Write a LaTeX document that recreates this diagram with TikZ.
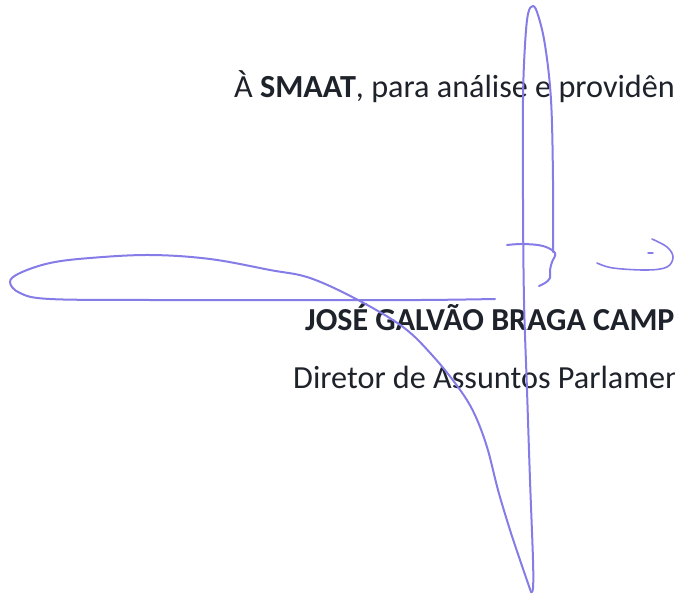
\documentclass[tikz,border=0pt]{standalone}
\usepackage{fontspec}
\setmainfont{Carlito}
\definecolor{ink}{RGB}{134,124,232}
\definecolor{print}{RGB}{30,34,42}
\tikzset{
  pen/.style={draw=ink,line width=2pt,line cap=round,line join=round},
  typed/.style={text=print,inner sep=0pt,anchor=base west}
}
\begin{document}
\begin{tikzpicture}[x=1pt,y=-1pt]
\clip (0,0) rectangle (675,597);
\fill[white] (0,0) rectangle (675,597);
\node[typed,font=\fontsize{32.2}{38}\selectfont] (despacho) at (234,97) {À \textbf{SMAAT}, para análise e providên};
\node[typed,font=\fontsize{32}{38}\selectfont\bfseries] (nome) at (305,330) {JOSÉ GALVÃO BRAGA CAMP};
\node[typed,font=\fontsize{32.2}{38}\selectfont] (cargo) at (293,388) {Diretor de Assuntos Parlamen};
\draw[pen] plot[smooth,tension=0.6] coordinates {(553,252) (553,180) (551,100) (545,45) (538,15) (533,6) (528,14) (525,45) (523,100) (523,200) (524,300) (527,390) (530,480) (533,560) (533,588) (531,592)};
\draw[pen] plot[smooth,tension=0.6] coordinates {(531,592) (520,560) (510,530) (498,490) (487,447) (474,413) (458,387) (432,355) (403,327) (358,300) (310,278) (270,270) (210,259) (150,255) (90,258) (50,263) (20,273) (10,282) (20,293) (50,299) (150,300) (300,300) (420,300) (495,299)};
\draw[pen] plot[smooth,tension=0.6] coordinates {(507,245) (523,244) (543,246) (555,253) (552,262) (550,270) (550,278) (545,283) (539,286)};
\draw[pen,line width=1.6pt] plot[smooth,tension=0.6] coordinates {(597,263) (613,268) (647,270) (667,267) (673,257) (667,247) (652,239)};
\draw[pen,line width=1.4pt] (648,253) -- (653,253);
\end{tikzpicture}
\end{document}
